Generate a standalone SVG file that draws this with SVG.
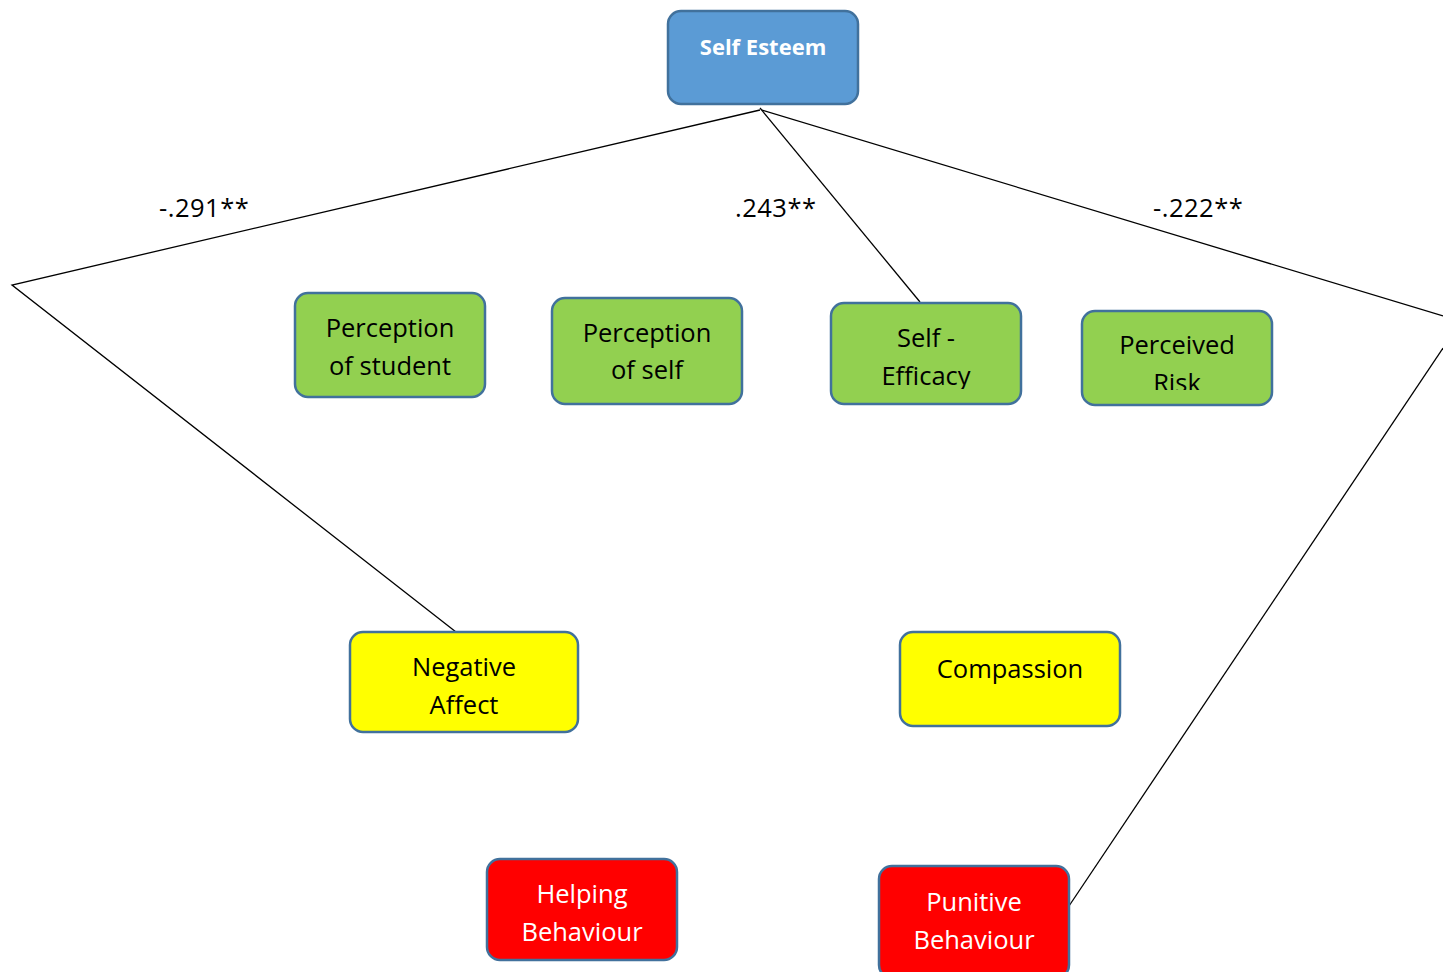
<svg xmlns="http://www.w3.org/2000/svg" width="1443" height="972" viewBox="0 0 1443 972">
  <style>
    .box { stroke: #41719C; stroke-width: 2.5; }
    .blue { fill: #5B9BD5; }
    .green { fill: #92D050; }
    .yellow { fill: #FFFF00; }
    .red { fill: #FF0000; }
    .t { font-family: "Open Sans", "Noto Sans", sans-serif; font-size: 25.5px; text-anchor: middle; fill: #000; }
    .w { fill: #fff; }
    .b { font-weight: bold; font-size: 22px; }
    .lbl { font-family: "Open Sans", "Noto Sans", sans-serif; font-size: 25.5px; fill: #000; letter-spacing: 0.5px; }
    .conn { stroke: #000; stroke-width: 1.3; fill: none; }
  </style>
  <defs>
    <clipPath id="clipEff"><rect x="832" y="304" width="188" height="85"/></clipPath>
    <clipPath id="clipRisk"><rect x="1083" y="312" width="188" height="78"/></clipPath>
  </defs>
  <rect width="1443" height="972" fill="#fff"/>

  <g id="connectors">
    <polyline class="conn" points="760,110 12,285 456,632"/>
    <line class="conn" x1="760" y1="108" x2="920" y2="302"/>
    <line class="conn" x1="762" y1="110" x2="1443" y2="316"/>
    <line class="conn" x1="1443" y1="348" x2="1069" y2="906"/>
  </g>

  <g id="labels">
    <text class="lbl" x="159" y="217">-.291**</text>
    <text class="lbl" x="735" y="217">.243**</text>
    <text class="lbl" x="1153" y="217">-.222**</text>
  </g>

  <g id="self-esteem">
    <rect class="box blue" x="668" y="11" width="190" height="93" rx="13"/>
    <text class="t w b" x="763" y="55">Self Esteem</text>
  </g>

  <g id="perception-student">
    <rect class="box green" x="295" y="293" width="190" height="104" rx="13"/>
    <text class="t" x="390" y="337">Perception</text>
    <text class="t" x="390" y="375">of student</text>
  </g>

  <g id="perception-self">
    <rect class="box green" x="552" y="298" width="190" height="106" rx="13"/>
    <text class="t" x="647" y="342">Perception</text>
    <text class="t" x="647" y="379">of self</text>
  </g>

  <g id="self-efficacy">
    <rect class="box green" x="831" y="303" width="190" height="101" rx="13"/>
    <g clip-path="url(#clipEff)">
      <text class="t" x="926" y="347">Self -</text>
      <text class="t" x="926" y="385">Efficacy</text>
    </g>
  </g>

  <g id="perceived-risk">
    <rect class="box green" x="1082" y="311" width="190" height="94" rx="13"/>
    <g clip-path="url(#clipRisk)">
      <text class="t" x="1177" y="354">Perceived</text>
      <text class="t" x="1177" y="392">Risk</text>
    </g>
  </g>

  <g id="negative-affect">
    <rect class="box yellow" x="350" y="632" width="228" height="100" rx="13"/>
    <text class="t" x="464" y="676">Negative</text>
    <text class="t" x="464" y="714">Affect</text>
  </g>

  <g id="compassion">
    <rect class="box yellow" x="900" y="632" width="220" height="94" rx="13"/>
    <text class="t" x="1010" y="678">Compassion</text>
  </g>

  <g id="helping-behaviour">
    <rect class="box red" x="487" y="859" width="190" height="101" rx="13"/>
    <text class="t w" x="582" y="903">Helping</text>
    <text class="t w" x="582" y="941">Behaviour</text>
  </g>

  <g id="punitive-behaviour">
    <rect class="box red" x="879" y="866" width="190" height="112" rx="13"/>
    <text class="t w" x="974" y="911">Punitive</text>
    <text class="t w" x="974" y="949">Behaviour</text>
  </g>
</svg>
